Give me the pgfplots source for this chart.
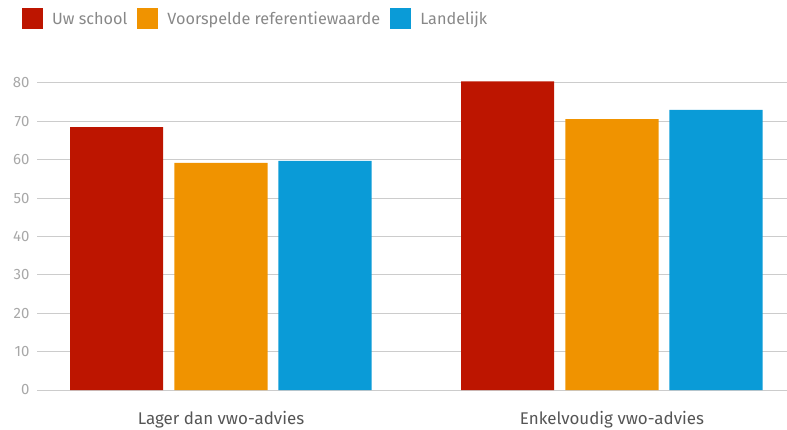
\documentclass[border=0pt]{standalone}
\usepackage{fontspec}
\setmainfont{Fira Sans}
\usepackage{pgfplots}
\pgfplotsset{compat=1.18}
\definecolor{cRed}{HTML}{BD1500}
\definecolor{cOrange}{HTML}{F09300}
\definecolor{cBlue}{HTML}{0A9BD7}
\definecolor{gridgray}{HTML}{CCCCCC}
\definecolor{ticktext}{HTML}{A8A8A8}
\definecolor{labtext}{HTML}{555555}
\definecolor{legtext}{HTML}{888888}

\begin{document}
\begin{tikzpicture}
\useasboundingbox (-37bp,-40bp) rectangle (750bp,390bp);
\begin{axis}[
    scale only axis,
    width=750bp, height=314.7bp,
    xmin=-0.4706, xmax=1.4476,
    ymin=0, ymax=82,
    axis line style={draw=none},
    ybar, bar width=0.238,
    xtick={0,1},
    xticklabels={Lager dan vwo-advies, Enkelvoudig vwo-advies},
    ytick={0,10,...,80},
    ymajorgrids, grid style={gridgray, line width=1bp},
    major tick length=0pt,
    /pgf/number format/assume math mode=true,
    tick label style={font=\fontsize{15}{17}\selectfont},
    yticklabel style={ticktext, xshift=-4bp},
    xticklabel style={labtext, font=\fontsize{17}{19}\selectfont, yshift=-18bp},
    legend columns=3,
    legend style={draw=none, fill=none, at={(-0.02,1.214)}, anchor=north west,
        font=\fontsize{16.3}{19}\selectfont, text=legtext, inner sep=0pt,
        /tikz/every odd column/.append style={column sep=7bp},
        /tikz/every even column/.append style={column sep=8bp}},
    legend image code/.code={\fill[#1] (0bp,-10.5bp) rectangle (21bp,10.5bp);},
]
\addplot[fill=cRed, draw=none, bar shift=-0.267] coordinates {(0,68.5) (1,80.4)};
\addplot[fill=cOrange, draw=none, bar shift=0] coordinates {(0,59.2) (1,70.6)};
\addplot[fill=cBlue, draw=none, bar shift=0.266] coordinates {(0,59.7) (1,73.0)};
\legend{Uw school, Voorspelde referentiewaarde, Landelijk}
\end{axis}
\end{tikzpicture}
\end{document}
